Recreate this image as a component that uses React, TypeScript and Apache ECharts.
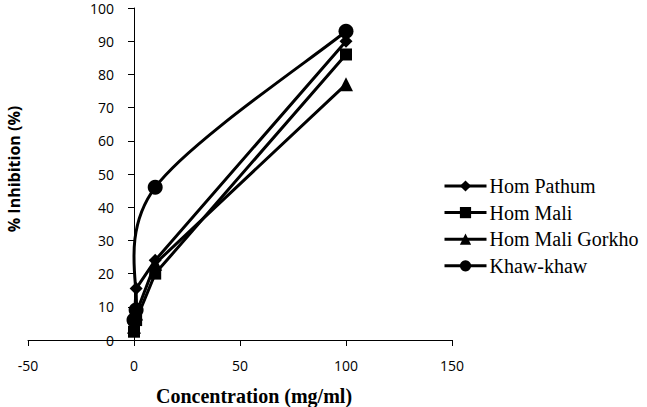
import React, { useEffect, useRef } from "react";
import * as echarts from "echarts";

const concentrations = [0, 1, 10, 100];
const seriesNames = ["Hom Pathum", "Hom Mali", "Hom Mali Gorkho", "Khaw-khaw"];
const homPathum = [5, 15.5, 24, 90];
const homMali = [2.5, 6, 20, 86];
const homMaliGorkho = [4, 8, 23, 77];
const khawKhaw = [6, 9, 46, 93];
const xTicks = [-50, 0, 50, 100, 150];
const yTicks = [0, 10, 20, 30, 40, 50, 60, 70, 80, 90, 100];

const pairs = (vals: number[]) => concentrations.map((c, i) => [c, vals[i]]);

export default function App() {
  const ref = useRef<HTMLDivElement>(null);
  useEffect(() => {
    if (!ref.current) return;
    const chart = echarts.init(ref.current, null, { renderer: "svg" });
    const symbols = ["diamond", "rect", "triangle", "circle"];
    const sizes = [13, 12, 14, 15];
    const values = [homPathum, homMali, homMaliGorkho, khawKhaw];
    const gridLeft = 28;
    const gridWidth = 424;
    const xMin = xTicks[0];
    const xMax = xTicks[xTicks.length - 1];
    const zeroOffset = ((0 - xMin) / (xMax - xMin)) * gridWidth;

    // Excel-style smoothed curve (Catmull-Rom -> cubic Bezier) through the Khaw-khaw points
    const renderSmooth = (params: any, api: any) => {
      if (params.dataIndex !== 0) return null;
      const pts = concentrations.map((c, i) => api.coord([c, khawKhaw[i]]));
      const n = pts.length;
      const children: any[] = [];
      for (let i = 0; i < n - 1; i++) {
        const p0 = pts[Math.max(i - 1, 0)];
        const p1 = pts[i];
        const p2 = pts[i + 1];
        const p3 = pts[Math.min(i + 2, n - 1)];
        children.push({
          type: "bezierCurve",
          shape: {
            x1: p1[0],
            y1: p1[1],
            cpx1: p1[0] + (p2[0] - p0[0]) / 6,
            cpy1: p1[1] + (p2[1] - p0[1]) / 6,
            cpx2: p2[0] - (p3[0] - p1[0]) / 6,
            cpy2: p2[1] - (p3[1] - p1[1]) / 6,
            x2: p2[0],
            y2: p2[1],
          },
          style: { stroke: "#000", lineWidth: 3, fill: null },
        });
      }
      return { type: "group", children };
    };

    chart.setOption({
      animation: false,
      backgroundColor: "#fff",
      grid: { left: gridLeft, width: gridWidth, top: 8, bottom: 67, containLabel: false, outerBoundsMode: "none" },
      legend: {
        orient: "vertical",
        left: 438,
        top: 171,
        itemWidth: 42,
        itemHeight: 14,
        itemGap: 6.6,
        data: seriesNames.map((n) => ({ name: n, lineStyle: { opacity: 1, width: 3, color: "#000" } })),
        lineStyle: { opacity: 1, width: 3, color: "#000" },
        textStyle: { fontFamily: "Liberation Serif", fontSize: 20, color: "#000", padding: [0, 0, 0, -2] },
      },
      xAxis: {
        type: "value",
        min: xMin,
        max: xMax,
        interval: 50,
        splitLine: { show: false },
        axisLine: { lineStyle: { color: "#000", width: 1 } },
        axisTick: { show: true, length: 6, lineStyle: { color: "#000" } },
        axisLabel: { color: "#000", fontFamily: "Open Sans", fontSize: 14, margin: 18 },
      },
      yAxis: {
        type: "value",
        min: yTicks[0],
        max: yTicks[yTicks.length - 1],
        interval: 10,
        offset: -zeroOffset,
        splitLine: { show: false },
        axisLine: { show: true, onZero: false, lineStyle: { color: "#000", width: 1 } },
        axisTick: { show: true, length: 6, lineStyle: { color: "#000" } },
        axisLabel: { color: "#000", fontFamily: "Open Sans", fontSize: 14, margin: 20 },
      },
      graphic: [
        {
          type: "text",
          x: 254,
          y: 396,
          style: {
            text: "Concentration (mg/ml)",
            font: "bold 20px 'Liberation Serif'",
            fill: "#000",
            textAlign: "center",
            textVerticalAlign: "middle",
          },
        },
        {
          type: "text",
          x: 14,
          y: 169,
          rotation: Math.PI / 2,
          style: {
            text: "% Inhibition (%)",
            font: "bold 16px 'Open Sans'",
            fill: "#000",
            textAlign: "center",
            textVerticalAlign: "middle",
          },
        },
      ],
      series: [
        {
          name: "Khaw-khaw curve",
          type: "custom",
          data: pairs(khawKhaw),
          renderItem: renderSmooth,
          silent: true,
          z: 4,
        },
        ...seriesNames.map((name, i) => ({
          name,
          type: "line",
          data: pairs(values[i]),
          symbol: symbols[i],
          symbolSize: sizes[i],
          lineStyle: { color: "#000", width: 3, opacity: i === 3 ? 0 : 1 },
          itemStyle: { color: "#000" },
          z: 2 + i,
        })),
      ],
    });
    return () => chart.dispose();
  }, []);
  return <div ref={ref} style={{ width: 647, height: 407, position: "absolute", left: 0, top: 0 }} />;
}
